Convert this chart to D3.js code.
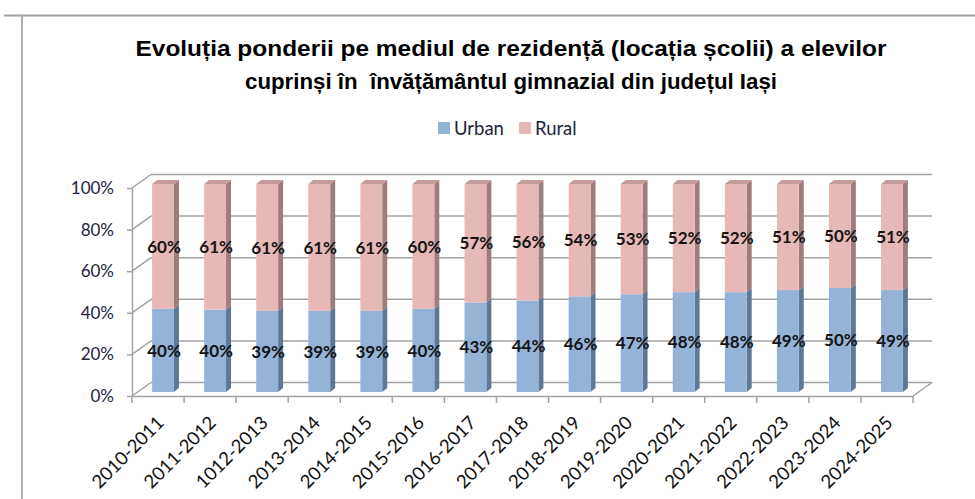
<!DOCTYPE html>
<html>
<head>
<meta charset="utf-8">
<script src="https://cdn.jsdelivr.net/npm/d3@7"></script>
<style>
  html, body { margin: 0; padding: 0; background: #ffffff; }
  svg { display: block; }
</style>
</head>
<body>
<svg id="chart" width="975" height="499"></svg>
<script>
const categories = ["2010-2011","2011-2012","1012-2013","2013-2014","2014-2015","2015-2016","2016-2017","2017-2018","2018-2019","2019-2020","2020-2021","2021-2022","2022-2023","2023-2024","2024-2025"];
const urban = [40,40,39,39,39,40,43,44,46,47,48,48,49,50,49];
const rural = [60,61,61,61,61,60,57,56,54,53,52,52,51,50,51];
const yTicks = [0, 0.2, 0.4, 0.6, 0.8, 1];
const seriesNames = ["Urban", "Rural"];
const titleLines = ["Evoluția ponderii pe mediul de rezidență (locația școlii) a elevilor", "cuprinși în  învățământul gimnazial din județul Iași"];

const colors = {
  Urban: { front: "#95B3D7", side: "#5F7897", top: "#7A94B5" },
  Rural: { front: "#E6B9B8", side: "#9E7D7C", top: "#C29B9A" }
};

const svg = d3.select("#chart");
const fontCal = "Lato, 'Open Sans', sans-serif";

// page frame
svg.append("line").attr("x1", 4).attr("x2", 975).attr("y1", 15.5).attr("y2", 15.5)
  .attr("stroke", "#a0a0a0").attr("stroke-width", 2);
svg.append("line").attr("x1", 22).attr("x2", 22).attr("y1", 15).attr("y2", 499)
  .attr("stroke", "#b0b0b0").attr("stroke-width", 2);

// title
const titleWidths = [751, 532];
svg.append("g").selectAll("text").data(titleLines).join("text")
  .attr("x", 511).attr("y", (d, i) => 56 + i * 33)
  .attr("text-anchor", "middle")
  .attr("font-family", "'Liberation Sans', Arial, sans-serif")
  .attr("font-weight", "bold").attr("font-size", 22.5)
  .attr("fill", "#000")
  .attr("textLength", (d, i) => titleWidths[i])
  .attr("lengthAdjust", "spacingAndGlyphs")
  .style("white-space", "pre")
  .text(d => d);

// legend
const legendX = [438, 519];
const lg = svg.append("g").selectAll("g").data(seriesNames).join("g")
  .attr("transform", (d, i) => `translate(${legendX[i]},122)`);
lg.append("rect").attr("width", 12).attr("height", 12).attr("fill", d => colors[d].front);
lg.append("text").attr("x", 16).attr("y", 12.5)
  .attr("font-family", fontCal).attr("font-size", 18.5).attr("fill", "#1c2440")
  .text(d => d);

// scales
const x = d3.scaleBand().domain(categories).range([132, 913]).paddingInner(0).paddingOuter(0);
const y = d3.scaleLinear().domain([0, 1]).range([396, 188]);
const DX = 19, DY = -13.5;          // depth of the 3D box
const BFX = 5, BFY = -4;            // bar front plane offset
const BDX = 5, BDY = -4;            // bar depth
const barW = x.bandwidth() * 0.42;

const grid = svg.append("g").attr("stroke", "#a3a3a3").attr("stroke-width", 1.5).attr("fill", "none");
grid.selectAll("line.back").data(yTicks).join("line").attr("class", "back")
  .attr("x1", 132 + DX).attr("x2", 913 + DX)
  .attr("y1", d => y(d) + DY).attr("y2", d => y(d) + DY);
grid.selectAll("line.side").data(yTicks).join("line").attr("class", "side")
  .attr("x1", 132).attr("x2", 132 + DX)
  .attr("y1", d => y(d)).attr("y2", d => y(d) + DY);
grid.append("line").attr("x1", 913).attr("x2", 913 + DX).attr("y1", y(0)).attr("y2", y(0) + DY);

// bars
const stacked = categories.map((c, i) => {
  const tot = urban[i] + rural[i];
  return { c, segs: [
    { s: "Urban", v: urban[i], y0: 0, y1: urban[i] / tot },
    { s: "Rural", v: rural[i], y0: urban[i] / tot, y1: 1 }
  ]};
});

const bars = svg.append("g");
stacked.forEach(d => {
  const cx = x(d.c) + x.bandwidth() / 2 + BFX;
  const xl = cx - barW / 2, xr = cx + barW / 2;
  d.segs.forEach((s, k) => {
    const yb = y(s.y0) + BFY, yt = y(s.y1) + BFY;
    const g = bars.append("g");
    g.append("path")
      .attr("d", `M${xr},${yb}L${xr + BDX},${yb + BDY}L${xr + BDX},${yt + BDY}L${xr},${yt}Z`)
      .attr("fill", colors[s.s].side);
    if (k === d.segs.length - 1) {
      g.append("path")
        .attr("d", `M${xl},${yt}L${xr},${yt}L${xr + BDX},${yt + BDY}L${xl + BDX},${yt + BDY}Z`)
        .attr("fill", colors[s.s].top);
    }
    g.append("rect").attr("x", xl).attr("y", yt).attr("width", barW).attr("height", yb - yt)
      .attr("fill", colors[s.s].front);
  });
});

// data labels
const labels = svg.append("g").attr("font-family", fontCal).attr("font-weight", "bold")
  .attr("font-size", 17).attr("fill", "#141414").attr("text-anchor", "middle");
stacked.forEach(d => {
  const cx = x(d.c) + x.bandwidth() / 2 + BFX;
  d.segs.forEach(s => {
    labels.append("text")
      .attr("x", cx + 1)
      .attr("y", (y(s.y0) + y(s.y1)) / 2 + BFY)
      .attr("dy", "0.36em")
      .text(s.v + "%");
  });
});

// y axis
const yAxis = svg.append("g").attr("transform", "translate(132,0)")
  .call(d3.axisLeft(y).tickValues(yTicks).tickFormat(d3.format(".0%")).tickSize(5).tickSizeOuter(0));
yAxis.select(".domain").attr("stroke", "#a3a3a3").attr("stroke-width", 1.5);
yAxis.selectAll(".tick line").attr("stroke", "#a3a3a3").attr("stroke-width", 1.5);
yAxis.selectAll(".tick text").attr("font-family", fontCal).attr("font-size", 17)
  .attr("fill", "#1c2440").attr("x", -18);

// x axis
const xAxis = svg.append("g").attr("transform", `translate(0,${y(0)})`)
  .call(d3.axisBottom(x).tickSize(0).tickSizeOuter(0));
xAxis.select(".domain").attr("stroke", "#a3a3a3").attr("stroke-width", 1.5);
xAxis.selectAll(".tick text")
  .attr("font-family", fontCal).attr("font-size", 18.5).attr("fill", "#111")
  .attr("text-anchor", "end")
  .attr("transform", "translate(7,28) rotate(-45)")
  .attr("y", 0).attr("dy", 0);
const bounds = categories.map(c => x(c)).concat([x.range()[1]]);
xAxis.selectAll("line.bound").data(bounds).join("line").attr("class", "bound")
  .attr("x1", d => d).attr("x2", d => d).attr("y1", 0).attr("y2", 7)
  .attr("stroke", "#a3a3a3").attr("stroke-width", 1.5);
</script>
</body>
</html>
